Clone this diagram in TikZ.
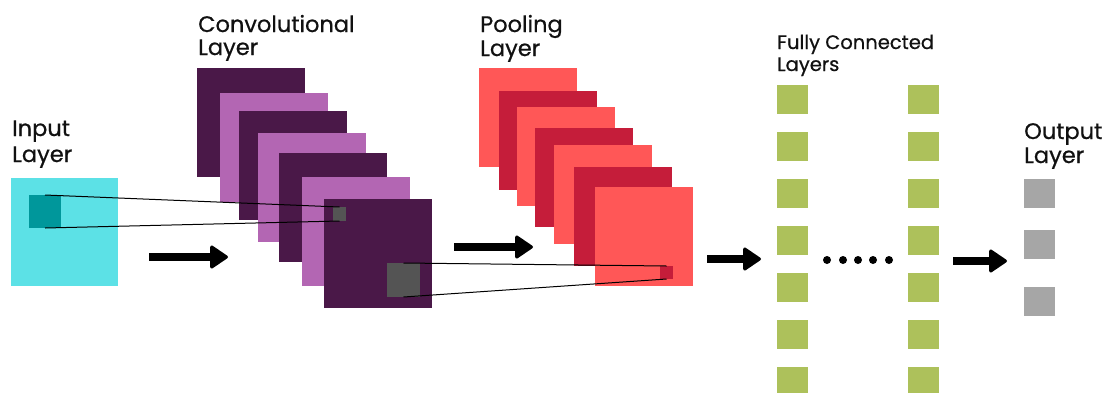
\documentclass[tikz,border=0pt]{standalone}
\usepackage{fontspec}
\setmainfont{Poppins}[FakeBold=0.6]
\usetikzlibrary{arrows.meta}
\definecolor{cyanL}{HTML}{5CE1E6}
\definecolor{tealD}{HTML}{00979B}
\definecolor{plum}{HTML}{4A1848}
\definecolor{orchid}{HTML}{B366B3}
\definecolor{grayD}{HTML}{545454}
\definecolor{redL}{HTML}{FF5757}
\definecolor{redD}{HTML}{C51D3A}
\definecolor{fcgreen}{HTML}{ADC15B}
\definecolor{outgray}{HTML}{A6A6A6}
\definecolor{txt}{HTML}{111111}
\tikzset{
  sq/.style={rectangle, inner sep=0pt, outer sep=0pt, draw=none, anchor=north west},
  convsq/.style={sq, minimum width=108pt, minimum height=109pt},
  poolsq/.style={sq, minimum width=98pt, minimum height=99pt},
  fcsq/.style={sq, fill=fcgreen, minimum width=31pt, minimum height=29pt},
  outsq/.style={sq, fill=outgray, minimum width=31pt, minimum height=29pt},
  dotn/.style={circle, fill=black, inner sep=0pt, minimum size=8pt},
  lbl/.style={anchor=base west, inner sep=0pt, text=txt, font=\fontsize{22.5}{22.5}\selectfont},
  lblsm/.style={anchor=base west, inner sep=0pt, text=txt, font=\fontsize{19.5}{19.5}\selectfont},
  thinline/.style={draw=black, line width=1pt},
  bigarrow/.style={line width=8pt, -{Triangle[length=19pt,width=25pt,round,line width=3pt]}},
}
\begin{document}
\begin{tikzpicture}[x=1pt,y=-1pt]
\useasboundingbox (0,0) rectangle (1112,392);
% input layer
\node[sq, fill=cyanL, minimum width=107pt, minimum height=108pt] (inp) at (11,178) {};
\node[sq, fill=tealD, minimum width=32pt, minimum height=33pt] (ink) at (29,195) {};
% convolutional layer
\node[convsq, fill=plum]   (c1) at (197,68) {};
\node[convsq, fill=orchid] (c2) at (220,93) {};
\node[convsq, fill=plum]   (c3) at (239,111) {};
\node[convsq, fill=orchid] (c4) at (258,133) {};
\node[convsq, fill=plum]   (c5) at (279,153) {};
\node[convsq, fill=orchid] (c6) at (302,177) {};
\node[convsq, fill=plum]   (c7) at (324,199) {};
\node[sq, fill=grayD, minimum width=13pt, minimum height=14pt] (cs) at (333,207) {};
\node[sq, fill=grayD, minimum width=33pt, minimum height=34pt] (cb) at (387,263) {};
% pooling layer
\node[poolsq, fill=redL] (p1) at (479,68) {};
\node[poolsq, fill=redD] (p2) at (499,91) {};
\node[poolsq, fill=redL] (p3) at (517,107) {};
\node[poolsq, fill=redD] (p4) at (535,128) {};
\node[poolsq, fill=redL] (p5) at (554,145) {};
\node[poolsq, fill=redD] (p6) at (574,167) {};
\node[poolsq, fill=redL] (p7) at (595,187) {};
\node[sq, fill=redD, minimum width=13pt, minimum height=13pt] (ps) at (660,266) {};
% projection lines
\draw[thinline] (ink.north) -- (cs.north);
\draw[thinline] (ink.south) -- (cs.south);
\draw[thinline] (cb.north) -- (ps.north);
\draw[thinline] (cb.south) -- (ps.south);
% arrows
\coordinate (a1s) at (149,257); \coordinate (a1e) at (228,257);
\coordinate (a2s) at (454,247); \coordinate (a2e) at (533,247);
\coordinate (a3s) at (707,259); \coordinate (a3e) at (761,259);
\coordinate (a4s) at (953,261); \coordinate (a4e) at (1007,261);
\draw[bigarrow] (a1s) -- (a1e);
\draw[bigarrow] (a2s) -- (a2e);
\draw[bigarrow] (a3s) -- (a3e);
\draw[bigarrow] (a4s) -- (a4e);
% fully connected
\foreach \i/\y in {1/85,2/132,3/179,4/226,5/273,6/320,7/367} {
  \node[fcsq] (fa\i) at (777,\y) {};
  \node[fcsq] (fb\i) at (908,\y) {};
}
\foreach \i/\x in {1/827,2/843,3/858,4/873,5/889} {
  \node[dotn] (d\i) at (\x,260) {};
}
% output
\node[outsq] (o1) at (1024,179) {};
\node[outsq] (o2) at (1024,230) {};
\node[outsq] (o3) at (1024,287) {};
% labels
\node[lbl] (tin1) at (12,136) {Input};
\node[lbl] (tin2) at (12,162) {Layer};
\node[lbl] (tc1) at (198,32) {Convolutional};
\node[lbl] (tc2) at (198,55) {Layer};
\node[lbl] (tp1) at (480,32) {Pooling};
\node[lbl] (tp2) at (480,56) {Layer};
\node[lblsm] (tf1) at (777,49) {Fully Connected};
\node[lblsm] (tf2) at (777,71) {Layers};
\node[lbl] (to1) at (1024,139) {Output};
\node[lbl] (to2) at (1024,163) {Layer};
\end{tikzpicture}
\end{document}
